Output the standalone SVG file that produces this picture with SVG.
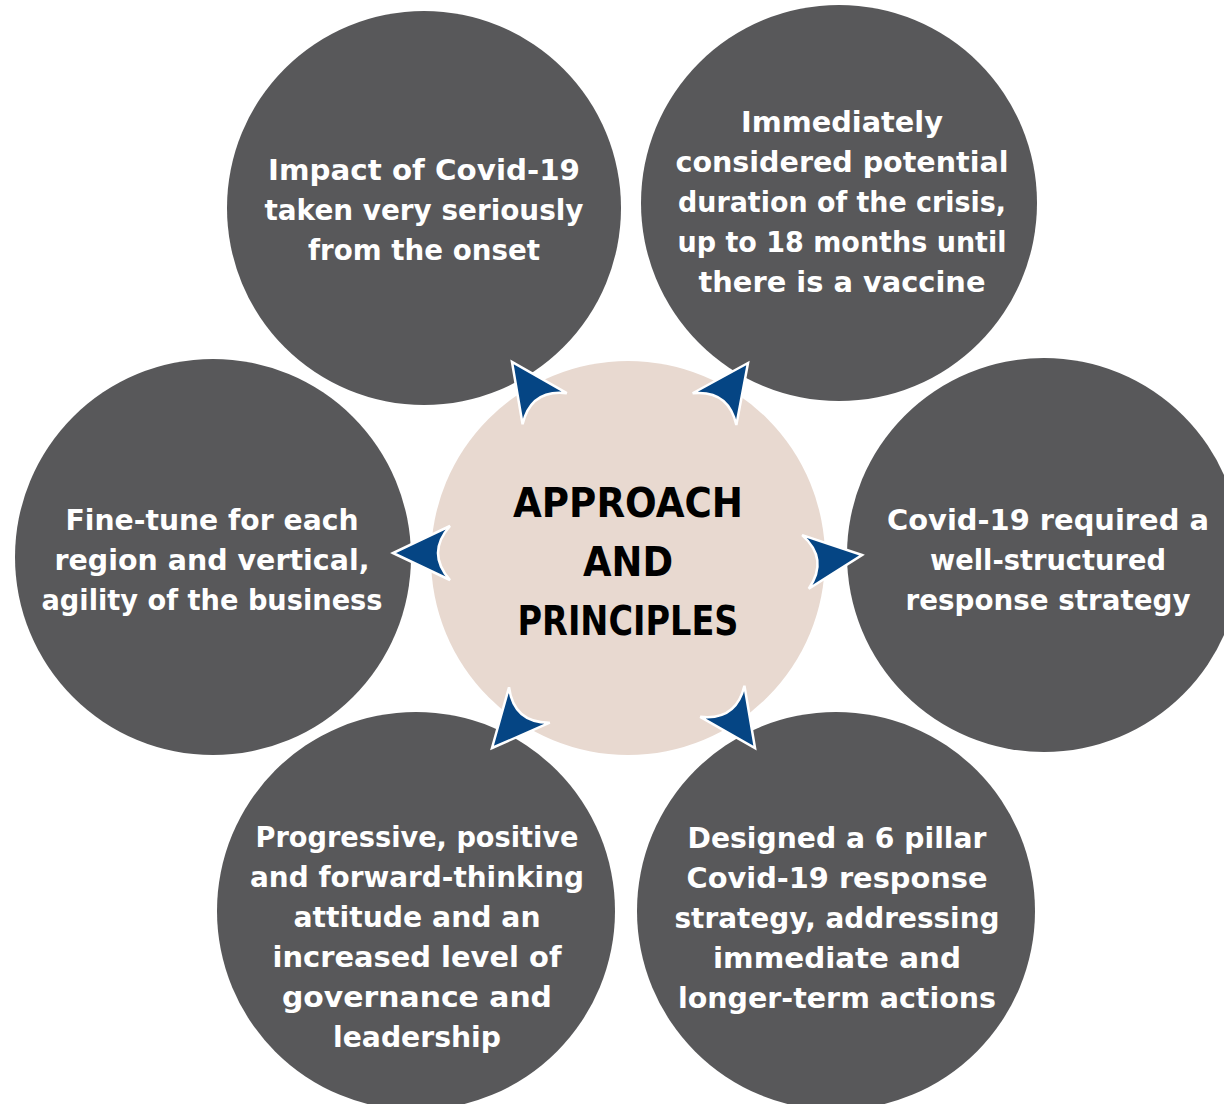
<svg xmlns="http://www.w3.org/2000/svg" xmlns:xlink="http://www.w3.org/1999/xlink" width="1224" height="1104" viewBox="0 0 1224 1104">
  <style>
    .petal { fill: #58585A; }
    .hub { fill: #E8D9D0; }
    .label { font-family: "DejaVu Sans", "Liberation Sans", sans-serif; font-weight: bold; font-size: 29px; fill: #FFFFFF; text-anchor: middle; }
    .title { font-family: "DejaVu Sans", "Liberation Sans", sans-serif; font-weight: bold; font-size: 40px; fill: #000000; text-anchor: middle; }
    .arrow { fill: #054584; stroke: #FFFFFF; stroke-width: 2.5; stroke-linejoin: miter; }
  </style>
  <defs>
    <!-- notched arrowhead, tip at origin, pointing along +x -->
    <path id="notch-arrow" d="M0,0 L-57,-27 Q-33,0 -57,27 Z"/>
  </defs>
  <rect width="1224" height="1104" fill="#FFFFFF"/>

  <g id="hub">
    <circle class="hub" cx="628" cy="558" r="197"/>
    <text class="title" x="628" y="517" textLength="230" lengthAdjust="spacingAndGlyphs">APPROACH</text>
    <text class="title" x="628" y="576" textLength="90" lengthAdjust="spacingAndGlyphs">AND</text>
    <text class="title" x="628" y="635" textLength="221" lengthAdjust="spacingAndGlyphs">PRINCIPLES</text>
  </g>

  <g id="node-impact">
    <circle class="petal" cx="424" cy="208" r="197"/>
    <text class="label" x="424" y="180" textLength="312" lengthAdjust="spacingAndGlyphs">Impact of Covid-19</text>
    <text class="label" x="424" y="220" textLength="319" lengthAdjust="spacingAndGlyphs">taken very seriously</text>
    <text class="label" x="424" y="260" textLength="232" lengthAdjust="spacingAndGlyphs">from the onset</text>
  </g>

  <g id="node-duration">
    <circle class="petal" cx="839" cy="203" r="198"/>
    <text class="label" x="842" y="132" textLength="202" lengthAdjust="spacingAndGlyphs">Immediately</text>
    <text class="label" x="842" y="172" textLength="333" lengthAdjust="spacingAndGlyphs">considered potential</text>
    <text class="label" x="842" y="212" textLength="328" lengthAdjust="spacingAndGlyphs">duration of the crisis,</text>
    <text class="label" x="842" y="252" textLength="329" lengthAdjust="spacingAndGlyphs">up to 18 months until</text>
    <text class="label" x="842" y="292" textLength="287" lengthAdjust="spacingAndGlyphs">there is a vaccine</text>
  </g>

  <g id="node-strategy">
    <circle class="petal" cx="1044" cy="555" r="197"/>
    <text class="label" x="1048" y="530" textLength="322" lengthAdjust="spacingAndGlyphs">Covid-19 required a</text>
    <text class="label" x="1048" y="570" textLength="236" lengthAdjust="spacingAndGlyphs">well-structured</text>
    <text class="label" x="1048" y="610" textLength="285" lengthAdjust="spacingAndGlyphs">response strategy</text>
  </g>

  <g id="node-pillars">
    <circle class="petal" cx="836" cy="911" r="199"/>
    <text class="label" x="837" y="848" textLength="299" lengthAdjust="spacingAndGlyphs">Designed a 6 pillar</text>
    <text class="label" x="837" y="888" textLength="301" lengthAdjust="spacingAndGlyphs">Covid-19 response</text>
    <text class="label" x="837" y="928" textLength="325" lengthAdjust="spacingAndGlyphs">strategy, addressing</text>
    <text class="label" x="837" y="968" textLength="248" lengthAdjust="spacingAndGlyphs">immediate and</text>
    <text class="label" x="837" y="1008" textLength="318" lengthAdjust="spacingAndGlyphs">longer-term actions</text>
  </g>

  <g id="node-attitude">
    <circle class="petal" cx="416" cy="911" r="199"/>
    <text class="label" x="417" y="847" textLength="323" lengthAdjust="spacingAndGlyphs">Progressive, positive</text>
    <text class="label" x="417" y="887" textLength="334" lengthAdjust="spacingAndGlyphs">and forward-thinking</text>
    <text class="label" x="417" y="927" textLength="247" lengthAdjust="spacingAndGlyphs">attitude and an</text>
    <text class="label" x="417" y="967" textLength="289" lengthAdjust="spacingAndGlyphs">increased level of</text>
    <text class="label" x="417" y="1007" textLength="270" lengthAdjust="spacingAndGlyphs">governance and</text>
    <text class="label" x="417" y="1047" textLength="168" lengthAdjust="spacingAndGlyphs">leadership</text>
  </g>

  <g id="node-finetune">
    <circle class="petal" cx="213" cy="557" r="198"/>
    <text class="label" x="212" y="530" textLength="293" lengthAdjust="spacingAndGlyphs">Fine-tune for each</text>
    <text class="label" x="212" y="570" textLength="315" lengthAdjust="spacingAndGlyphs">region and vertical,</text>
    <text class="label" x="212" y="610" textLength="341" lengthAdjust="spacingAndGlyphs">agility of the business</text>
  </g>

  <g id="connectors">
    <use xlink:href="#notch-arrow" class="arrow" transform="translate(512,362) rotate(-125)"/>
    <use xlink:href="#notch-arrow" class="arrow" transform="translate(748,363) rotate(-54)"/>
    <use xlink:href="#notch-arrow" class="arrow" transform="translate(862,555) rotate(-7)"/>
    <use xlink:href="#notch-arrow" class="arrow" transform="translate(755,748) rotate(55)"/>
    <use xlink:href="#notch-arrow" class="arrow" transform="translate(492,748) rotate(131)"/>
    <use xlink:href="#notch-arrow" class="arrow" transform="translate(393,553) rotate(180)"/>
  </g>
</svg>
